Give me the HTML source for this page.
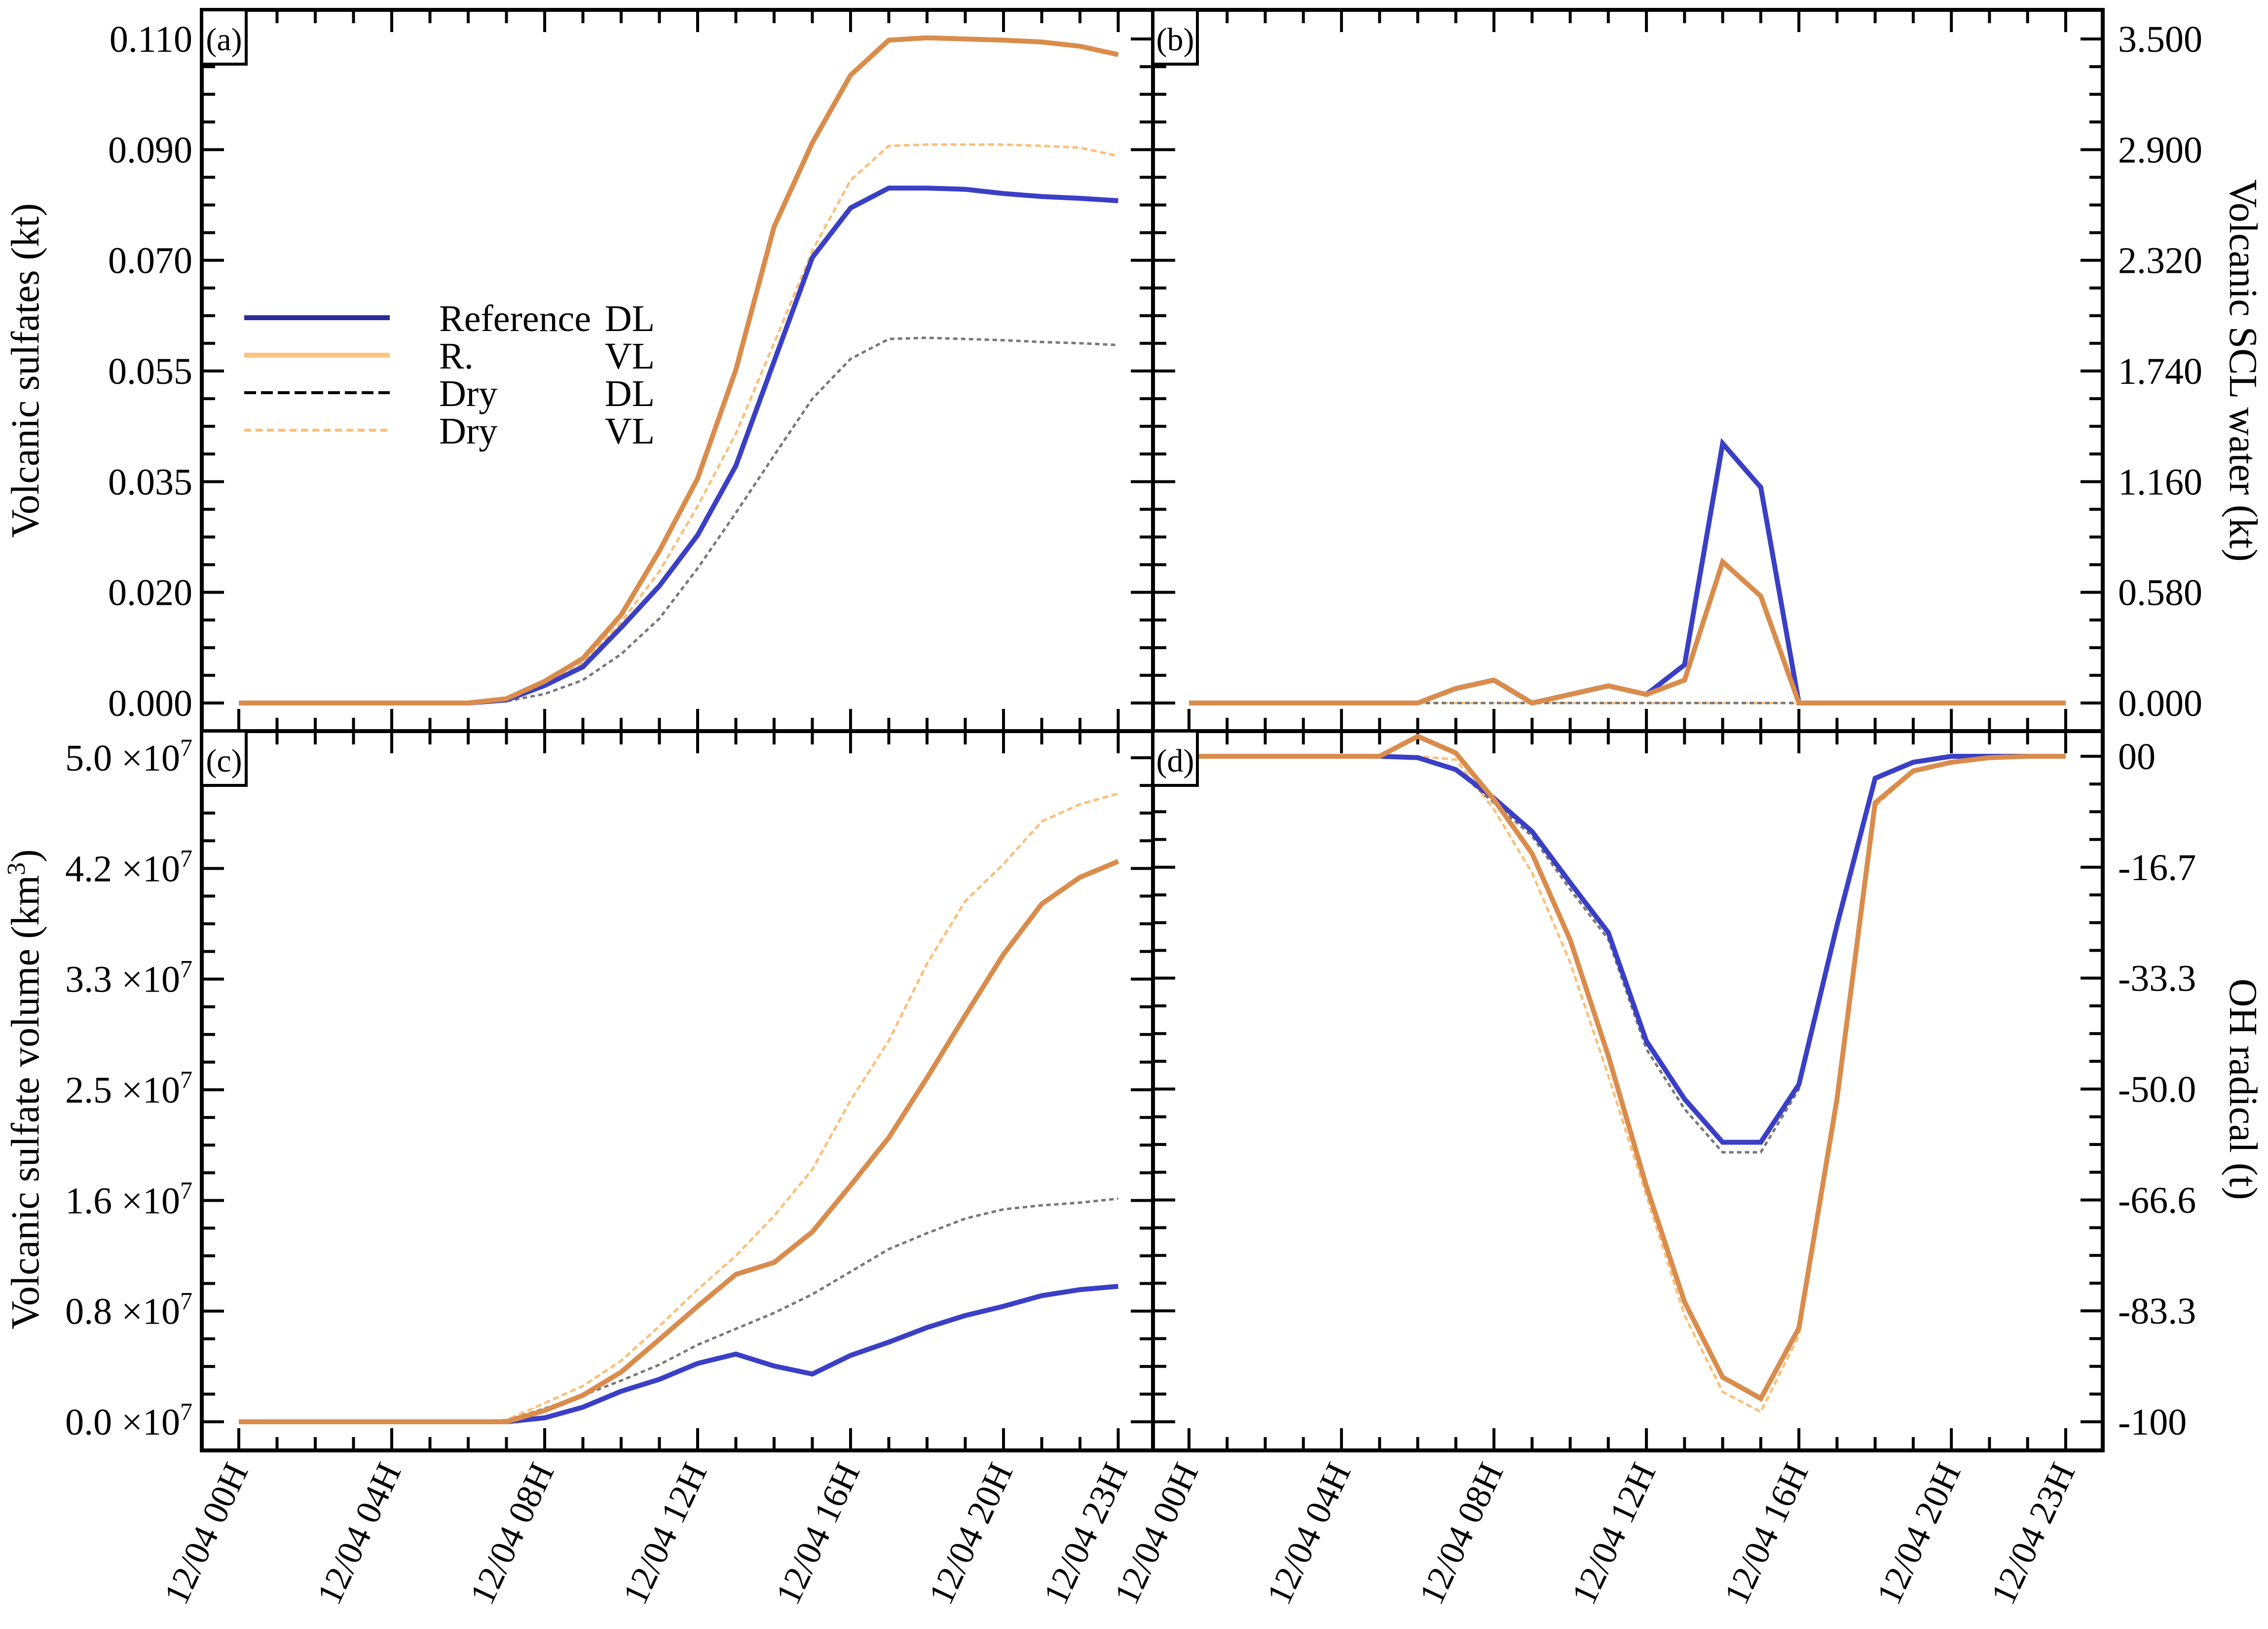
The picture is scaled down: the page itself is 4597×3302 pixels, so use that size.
<!DOCTYPE html>
<html><head><meta charset="utf-8"><style>
html,body{margin:0;padding:0;background:#fff;}
svg{display:block;font-family:"Liberation Serif",serif;}
</style></head><body>
<svg id="chart" xmlns="http://www.w3.org/2000/svg" width="4597" height="3302" viewBox="0 0 4597 3302">
<g id="layer"></g>
</svg>
<script>
const hours = [0,1,2,3,4,5,6,7,8,9,10,11,12,13,14,15,16,17,18,19,20,21,22,23];
const tickHours = [0,4,8,12,16,20,23];
const tickLabels = ["12/04 00H","12/04  04H","12/04 08H","12/04  12H","12/04  16H","12/04  20H","12/04  23H"];
// (a) volcanic sulfates (kt)
const aRefDL = [0,0,0,0,0,0,0,0.0005,0.0029,0.006,0.0125,0.0194,0.0278,0.0393,0.0566,0.0738,0.082,0.0853,0.0853,0.0851,0.0844,0.0839,0.0836,0.0832];
const aRefVL = [0,0,0,0,0,0,0,0.0007,0.0036,0.0074,0.0146,0.0252,0.0372,0.0552,0.0789,0.0928,0.104,0.1098,0.1102,0.110,0.1098,0.1095,0.1088,0.1074];
const aDryDL = [0,0,0,0,0,0,0,0.0003,0.0015,0.0038,0.0081,0.014,0.0223,0.0315,0.041,0.0504,0.057,0.0603,0.0605,0.0603,0.0601,0.0598,0.0596,0.0593];
const aDryVL = [0,0,0,0,0,0,0,0.0005,0.0029,0.0067,0.0134,0.0218,0.0326,0.0446,0.0596,0.0749,0.0866,0.0923,0.0925,0.0925,0.0925,0.0923,0.092,0.0906];
const aTicks = ["0.000","0.020","0.035","0.055","0.070","0.090","0.110"];
// (b) volcanic SCL water (kt)
const bRefDL = [0,0,0,0,0,0,0,0.076,0.12,0,0.045,0.09,0.045,0.2,1.36,1.13,0,0,0,0,0,0,0,0];
const bRefVL = [0,0,0,0,0,0,0,0.076,0.12,0,0.045,0.09,0.045,0.12,0.74,0.56,0,0,0,0,0,0,0,0];
const bDryDL = [0,0,0,0,0,0,0,0,0,0,0,0,0,0,0,0,0,0,0,0,0,0,0,0];
const bDryVL = [0,0,0,0,0,0,0,0,0,0,0,0,0,0,0,0,0,0,0,0,0,0,0,0];
const bTicks = ["0.000","0.580","1.160","1.740","2.320","2.900","3.500"];
// (c) volcanic sulfate volume (1e7 km3)
const cRefDL = [0,0,0,0,0,0,0,0,0.03,0.11,0.23,0.32,0.44,0.51,0.42,0.36,0.5,0.6,0.71,0.8,0.87,0.95,0.995,1.02];
const cRefVL = [0,0,0,0,0,0,0,0,0.085,0.2,0.375,0.62,0.87,1.11,1.2,1.43,1.78,2.14,2.59,3.06,3.52,3.9,4.1,4.22];
const cDryDL = [0,0,0,0,0,0,0,0.01,0.1,0.2,0.31,0.43,0.58,0.7,0.82,0.96,1.13,1.3,1.42,1.53,1.6,1.63,1.65,1.68];
const cDryVL = [0,0,0,0,0,0,0,0.015,0.14,0.27,0.46,0.72,0.995,1.25,1.55,1.9,2.42,2.87,3.45,3.92,4.2,4.52,4.65,4.73];
const cTicks = ["0.0","0.8","1.6","2.5","3.3","4.2","5.0"];
// (d) OH radical (t)
const dRefDL = [0,0,0,0,0,0,-0.2,-2,-6.3,-11.3,-19,-26.5,-42.8,-51.5,-58,-58,-49.3,-25.4,-3.3,-0.9,0,0,0,0];
const dRefVL = [0,0,0,0,0,0,3,0.5,-6.5,-14.6,-27.6,-45,-64.6,-82,-93.3,-96.5,-85.9,-51.5,-7,-2.2,-0.9,-0.2,0,0];
const dDryDL = [0,0,0,0,0,0,0,-2,-7,-12,-20,-27.5,-44,-53,-59.5,-59.5,-50,-26,-3.5,-1,0,0,0,0];
const dDryVL = [0,0,0,0,0,0,0,-0.5,-8,-17.5,-31,-48,-66,-84,-95.5,-98.5,-87,-52,-7.5,-2.3,-1,-0.3,0,0];
const dTicks = ["-100","-83.3","-66.6","-50.0","-33.3","-16.7","00"];

const NS="http://www.w3.org/2000/svg";
const layer=document.getElementById('layer');
function el(tag,attrs,parent){const e=document.createElementNS(NS,tag);for(const k in attrs)e.setAttribute(k,attrs[k]);(parent||layer).appendChild(e);return e;}

const panels=[
 {id:'a',fx0:409,fx1:2337,fy0:20,fy1:1482,hx0:484,hstep:77.5,vy0:1425,vy1:79,vmin:0,vmax:0.110,ticks:aTicks,side:'left',series:[aRefDL,aRefVL,aDryDL,aDryVL]},
 {id:'b',fx0:2337,fx1:4262,fy0:20,fy1:1482,hx0:2410,hstep:77.26,vy0:1425,vy1:79,vmin:0,vmax:3.48,ticks:bTicks,side:'right',series:[bRefDL,bRefVL,bDryDL,bDryVL]},
 {id:'c',fx0:409,fx1:2337,fy0:1482,fy1:2940,hx0:484,hstep:77.5,vy0:2882,vy1:1536,vmin:0,vmax:5.0,ticks:cTicks,side:'left',series:[cRefDL,cRefVL,cDryDL,cDryVL],sci:true},
 {id:'d',fx0:2337,fx1:4262,fy0:1482,fy1:2940,hx0:2410,hstep:77.26,vy0:2882,vy1:1533,vmin:-100,vmax:0,ticks:dTicks,side:'right',series:[dRefDL,dRefVL,dDryDL,dDryVL]}
];
const styles=[
 {stroke:'#3a3fc6','stroke-width':10,name:'reference-dl-line'},
 {stroke:'#d98c4b','stroke-width':10,name:'reference-vl-line'},
 {stroke:'#777777','stroke-width':5,'stroke-dasharray':'9 7',name:'dry-dl-line'},
 {stroke:'#fbbf78','stroke-width':5,'stroke-dasharray':'12 7',name:'dry-vl-line'}
];
const drawOrder=[3,2,0,1];

panels.forEach(p=>{
  const g=el('g',{});
  
  
  const xs=h=>p.hx0+h*p.hstep;
  const ys=v=>p.vy0+(v-p.vmin)/(p.vmax-p.vmin)*(p.vy1-p.vy0);
  const maj=(p.vy1-p.vy0)/6;
  for(let i=-2;i<=26;i++){
    const y=p.vy0+i*maj/4;
    if(y<p.fy0+3||y>p.fy1-3)continue;
    const len=(i%4===0)?45:27;
    const t1=el('line',{x1:p.fx0,x2:p.fx0+len,y1:y,y2:y,stroke:'#000','stroke-width':6},g);
    
    
    const t2=el('line',{x1:p.fx1,x2:p.fx1-len,y1:y,y2:y,stroke:'#000','stroke-width':6},g);
    
    
  }
  p.ticks.forEach((lab,i)=>{
    const y=p.vy0+i*maj;
    let t;
    if(p.side==='left'){
      t=el('text',{x:390,y:y+26,'text-anchor':'end','font-size':76},g);
    } else {
      t=el('text',{x:4293,y:y+26,'text-anchor':'start','font-size':76},g);
    }
    
    
    if(p.sci){
      t.textContent=lab+' \u00d710';
      const s=el('tspan',{dy:-30,'font-size':50},t);
      s.textContent='7';
    } else t.textContent=lab;
  });
  hours.forEach(h=>{
    const x=xs(h);
    const len=tickHours.includes(h)?45:27;
    const t1=el('line',{x1:x,x2:x,y1:p.fy1,y2:p.fy1-len,stroke:'#000','stroke-width':6},g);
    
    
    const t2=el('line',{x1:x,x2:x,y1:p.fy0,y2:p.fy0+len,stroke:'#000','stroke-width':6},g);
    
    
  });
  drawOrder.forEach(si=>{
    const st=styles[si];
    const pts=p.series[si].map((v,i)=>xs(hours[i]).toFixed(1)+','+ys(v).toFixed(1)).join(' ');
    const a={points:pts,fill:'none',stroke:st.stroke,'stroke-width':st['stroke-width'],'stroke-linejoin':'miter'};
    if(st['stroke-dasharray'])a['stroke-dasharray']=st['stroke-dasharray'];
    const pl=el('polyline',a,g);
    
    
  });
  const fr=el('rect',{x:p.fx0,y:p.fy0,width:p.fx1-p.fx0,height:p.fy1-p.fy0,fill:'none',stroke:'#000','stroke-width':8},g);
  
  
  const bx=el('rect',{x:p.fx0,y:p.fy0,width:90,height:110,fill:'#fff',stroke:'#000','stroke-width':6},g);
  
  
  const lt=el('text',{x:p.fx0+45,y:p.fy0+82,'text-anchor':'middle','font-size':66},g);
  
  
  lt.textContent='('+p.id+')';
  if(p.id==='c'||p.id==='d'){
    tickHours.forEach((h,i)=>{
      const x=xs(h)+20, y=2980;
      const t=el('text',{x:x,y:y,'text-anchor':'end','font-size':72,transform:'rotate(-65 '+x+' '+y+')'},g);
      
      
      t.setAttribute('xml:space','preserve');
      t.textContent=tickLabels[i];
    });
  }
});

function title(txt,x,y,rot,name){
  const t=el('text',{x:x,y:y,'text-anchor':'middle','font-size':80,transform:'rotate('+rot+' '+x+' '+y+')'});
  
  
  t.innerHTML=txt;
}
title('Volcanic sulfates (kt)',78,751,-90,'y-axis-title-a');
title('Volcanic SCL water (kt)',4520,751,90,'y-axis-title-b');
title('Volcanic sulfate volume (km<tspan dy="-28" font-size="52">3</tspan><tspan dy="28">)</tspan>',78,2208,-90,'y-axis-title-c');
title('OH radical (t)',4520,2208,90,'y-axis-title-d');

const legTexts=[["Reference","DL"],["R.","VL"],["Dry","DL"],["Dry","VL"]];
const lg=el('g',{});


const legColors=['#2a2c99','#fcc47e','#000000','#fbbf78'];
legTexts.forEach((lt,i)=>{
  const y=644+i*76;
  const a={x1:495,x2:790,y1:y,y2:y,stroke:legColors[i],'stroke-width':i<2?10:6};
  if(i>=2)a['stroke-dasharray']=i===2?'24 10':'14 9';
  const ln=el('line',a,lg);
  
  
  const t1=el('text',{x:890,y:y+27,'font-size':76},lg);
  
  
  t1.textContent=lt[0];
  const t2=el('text',{x:1327,y:y+27,'font-size':76,'text-anchor':'end'},lg);
  
  
  t2.textContent=lt[1];
});
</script>
</body></html>
